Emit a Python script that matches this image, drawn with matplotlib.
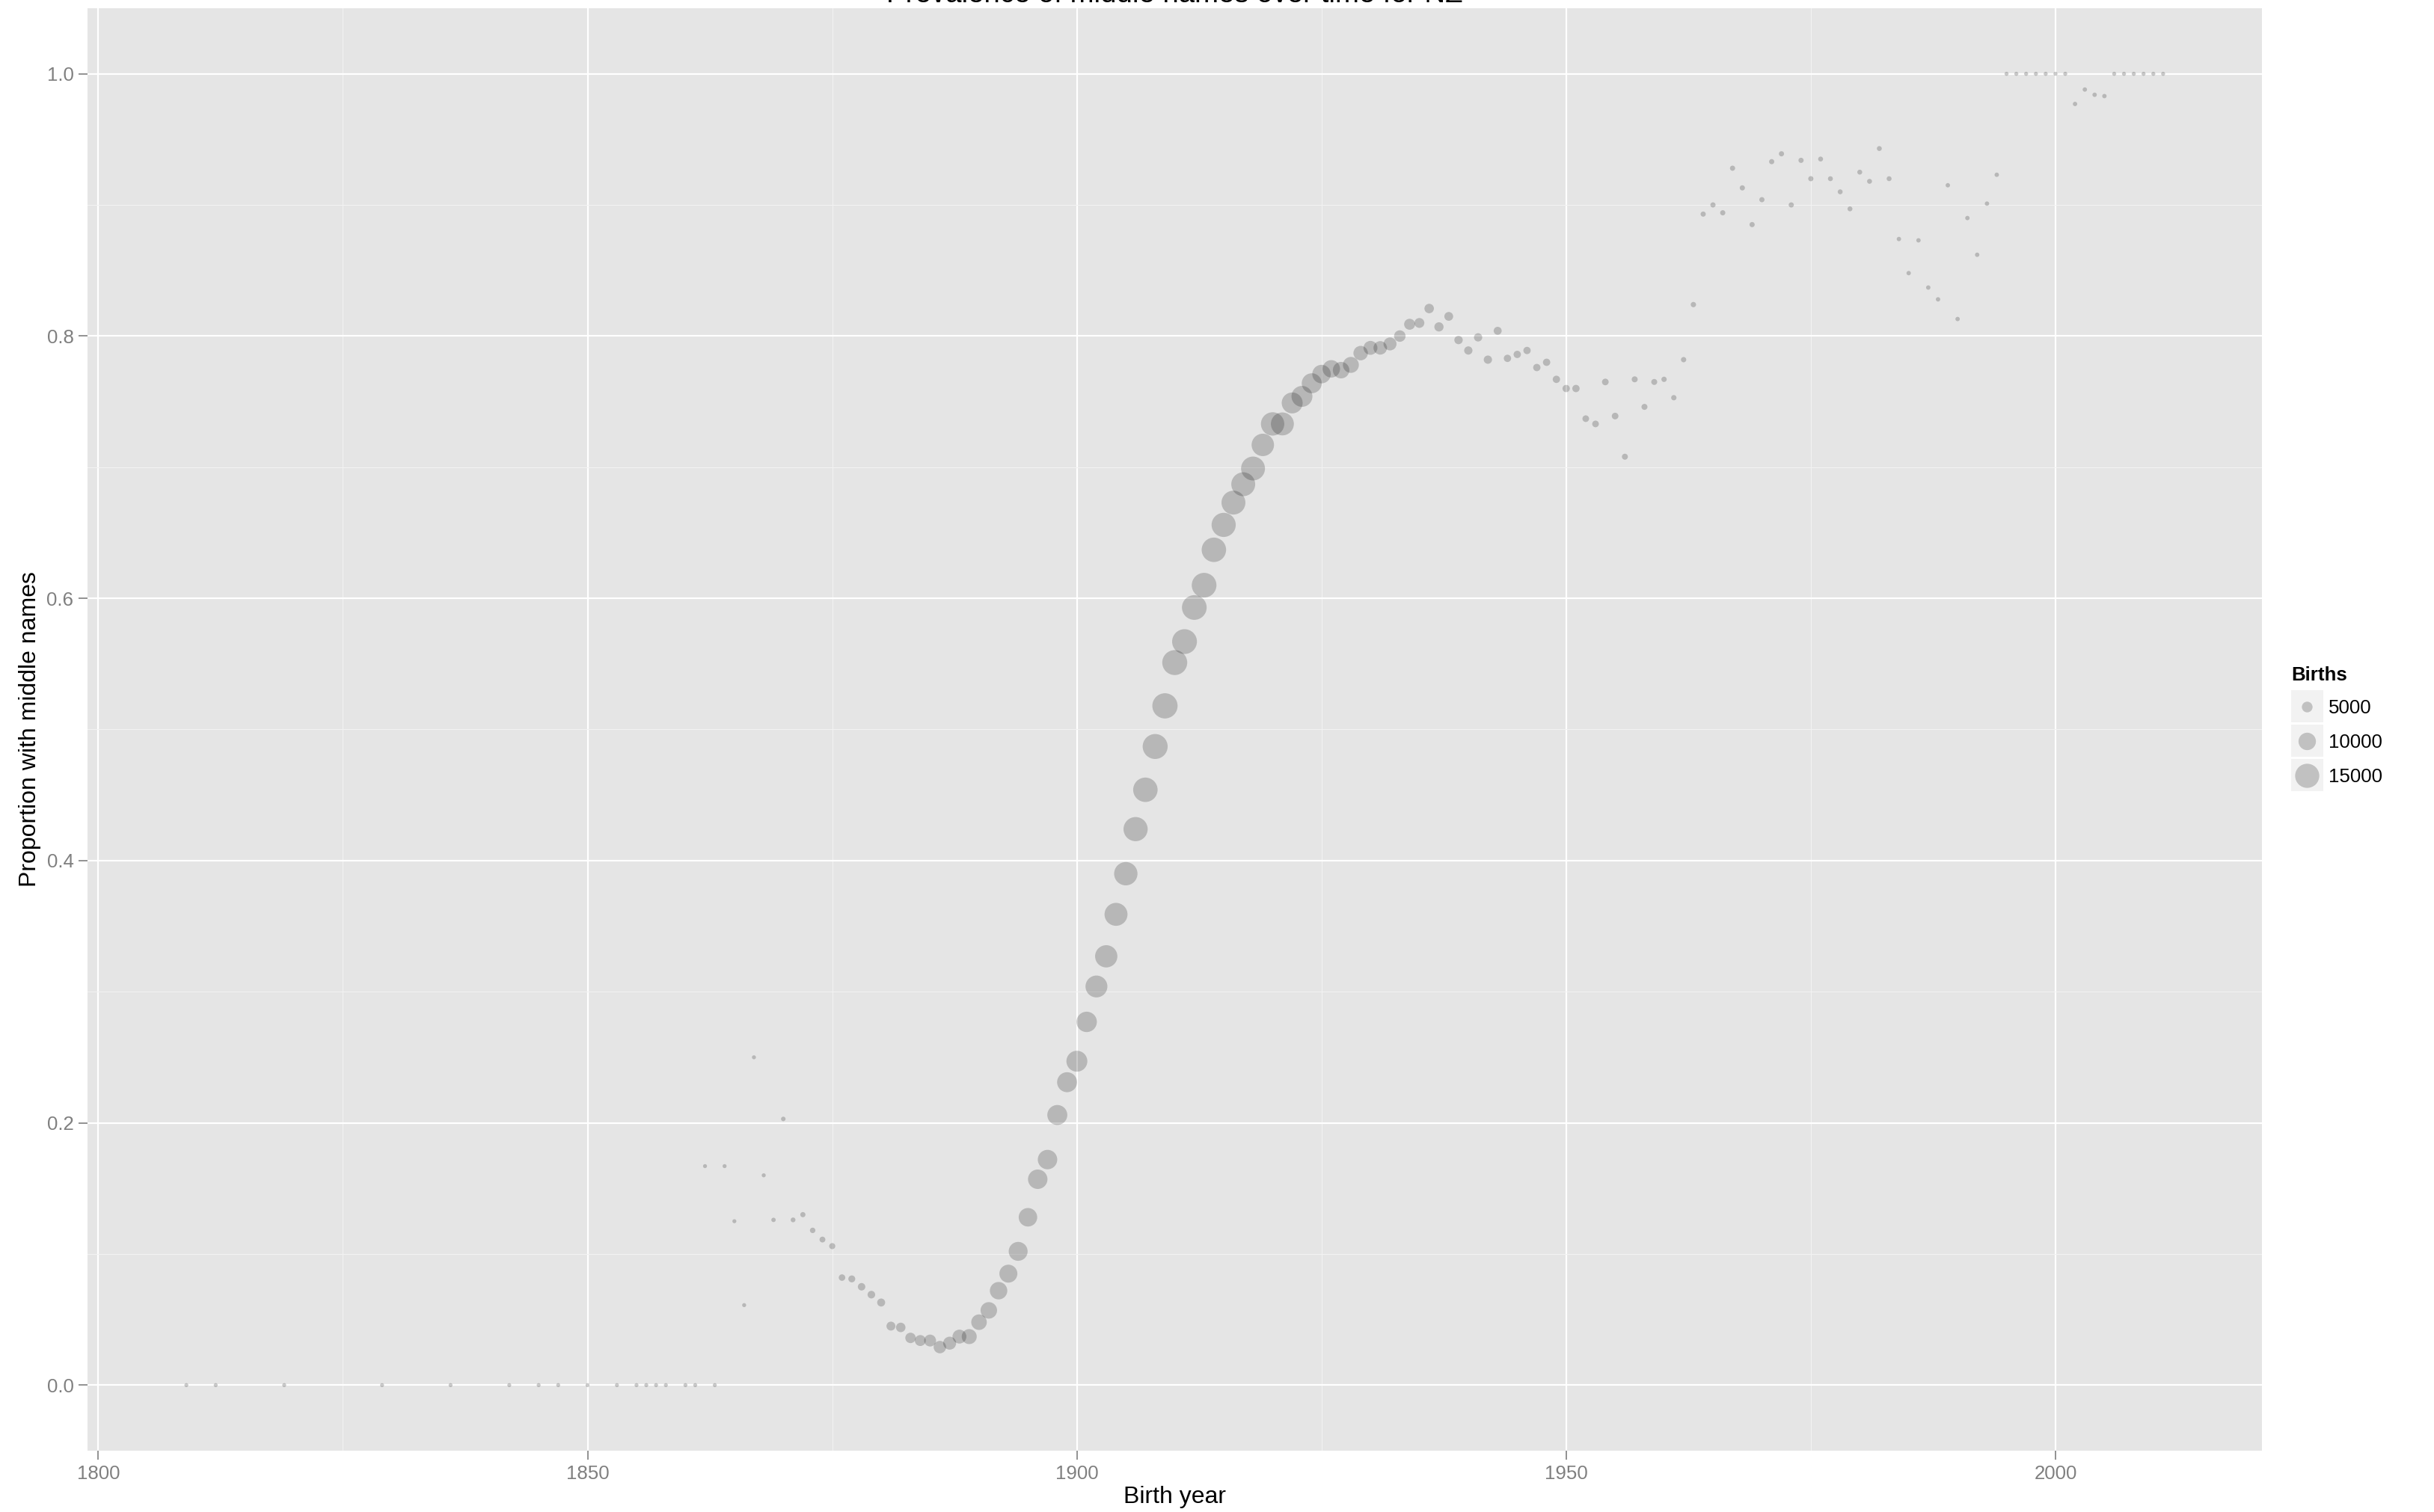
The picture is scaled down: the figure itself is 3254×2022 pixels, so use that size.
import matplotlib.pyplot as plt
from matplotlib.patches import Rectangle
from matplotlib.ticker import MultipleLocator, FuncFormatter

plt.rcParams['font.family'] = ['Liberation Sans', 'DejaVu Sans']

# birth year, proportion with a middle name, number of births
years = [1809, 1812, 1819, 1829, 1836, 1842, 1845, 1847, 1850, 1853, 1855, 1856, 1857, 1858, 1860, 1861,
         1862, 1863, 1864, 1865, 1866, 1867, 1868, 1869,
         1870, 1871, 1872, 1873, 1874, 1875, 1876, 1877, 1878, 1879,
         1880, 1881, 1882, 1883, 1884, 1885, 1886, 1887, 1888, 1889,
         1890, 1891, 1892, 1893, 1894, 1895, 1896, 1897, 1898, 1899,
         1900, 1901, 1902, 1903, 1904, 1905, 1906, 1907, 1908, 1909,
         1910, 1911, 1912, 1913, 1914, 1915, 1916, 1917, 1918, 1919,
         1920, 1921, 1922, 1923, 1924, 1925, 1926, 1927, 1928, 1929,
         1930, 1931, 1932, 1933, 1934, 1935, 1936, 1937, 1938, 1939,
         1940, 1941, 1942, 1943, 1944, 1945, 1946, 1947, 1948, 1949,
         1950, 1951, 1952, 1953, 1954, 1955, 1956, 1957, 1958, 1959,
         1960, 1961, 1962, 1963, 1964, 1965, 1966, 1967, 1968, 1969,
         1970, 1971, 1972, 1973, 1974, 1975, 1976, 1977, 1978, 1979,
         1980, 1981, 1982, 1983, 1984, 1985, 1986, 1987, 1988, 1989,
         1990, 1991, 1992, 1993, 1994, 1995, 1996, 1997, 1998, 1999,
         2000, 2001, 2002, 2003, 2004, 2005, 2006, 2007, 2008, 2009,
         2010, 2011]

prop = [0, 0, 0, 0, 0, 0, 0, 0, 0, 0, 0, 0, 0, 0, 0, 0,
        0.167, 0.0, 0.167, 0.125, 0.061, 0.250, 0.160, 0.126,
        0.203, 0.126, 0.130, 0.118, 0.111, 0.106, 0.082, 0.081, 0.075, 0.069,
        0.063, 0.045, 0.044, 0.036, 0.034, 0.034, 0.029, 0.032, 0.037, 0.037,
        0.048, 0.057, 0.072, 0.085, 0.102, 0.128, 0.157, 0.172, 0.206, 0.231,
        0.247, 0.277, 0.304, 0.327, 0.359, 0.390, 0.424, 0.454, 0.487, 0.518,
        0.551, 0.567, 0.593, 0.610, 0.637, 0.656, 0.673, 0.687, 0.699, 0.717,
        0.733, 0.733, 0.749, 0.754, 0.764, 0.771, 0.775, 0.774, 0.778, 0.787,
        0.791, 0.791, 0.794, 0.800, 0.809, 0.810, 0.821, 0.807, 0.815, 0.797,
        0.789, 0.799, 0.782, 0.804, 0.783, 0.786, 0.789, 0.776, 0.780, 0.767,
        0.760, 0.760, 0.737, 0.733, 0.765, 0.739, 0.708, 0.767, 0.746, 0.765,
        0.767, 0.753, 0.782, 0.824, 0.893, 0.900, 0.894, 0.928, 0.913, 0.885,
        0.904, 0.933, 0.939, 0.900, 0.934, 0.920, 0.935, 0.920, 0.910, 0.897,
        0.925, 0.918, 0.943, 0.920, 0.874, 0.848, 0.873, 0.837, 0.828, 0.915,
        0.813, 0.890, 0.862, 0.901, 0.923, 1.0, 1.0, 1.0, 1.0, 1.0,
        1.0, 1.0, 0.977, 0.988, 0.984, 0.983, 1.0, 1.0, 1.0, 1.0,
        1.0, 1.0]

births = [2, 3, 2, 3, 2, 4, 3, 5, 4, 6, 5, 4, 6, 7, 5, 8,
          6, 4, 12, 16, 33, 16, 25, 300,
          400, 600, 900, 1100, 1400, 1600, 1900, 2200, 2600, 2700,
          3000, 3700, 4100, 4800, 5200, 5900, 6300, 6700, 7400, 8200,
          8600, 9300, 10000, 10400, 11100, 10800, 11500, 11500, 11900, 11900,
          12600, 12200, 13300, 13600, 14100, 14400, 15000, 15200, 15600, 15800,
          15600, 15500, 15400, 15400, 15200, 15000, 14800, 14800, 14800, 13700,
          14400, 14100, 12600, 12600, 11900, 10800, 10000, 9300, 8900, 7800,
          7400, 7100, 6700, 5600, 5200, 4400, 4100, 3900, 3600, 3300,
          3200, 3200, 3200, 3000, 2500, 2500, 2500, 2500, 2500, 2500,
          2500, 2500, 2000, 2000, 2000, 2000, 1500, 1500, 1500, 1500,
          1000, 1000, 1000, 1000, 900, 900, 900, 900, 900, 900,
          900, 900, 900, 900, 900, 900, 700, 700, 700, 700,
          700, 700, 700, 700, 300, 300, 300, 300, 300, 300,
          300, 300, 300, 300, 300, 50, 50, 50, 50, 50,
          50, 50, 300, 300, 300, 300, 50, 50, 50, 50,
          50, 50]

legend_breaks = [5000, 10000, 15000]

W, H, DPI = 3254, 2022, 200


def marker_area(b):
    # point diameter grows linearly with births (pixels), returned as pt^2
    d_px = 5.3 + 0.0018 * b
    return (d_px * 72 / DPI) ** 2


fig = plt.figure(figsize=(W / DPI, H / DPI), dpi=DPI, facecolor='white')
ax = fig.add_axes([117 / W, 1 - 1940 / H, (3024 - 117) / W, (1940 - 11) / H])
ax.set_facecolor('#E5E5E5')

ax.scatter(years, prop, s=[marker_area(b) for b in births], c='black', alpha=0.2,
           linewidths=0, zorder=3)

xr = max(years) - min(years)
ax.set_xlim(min(years) - 0.05 * xr, max(years) + 0.05 * xr)
ax.set_ylim(-0.05, 1.05)

ax.xaxis.set_major_locator(MultipleLocator(50))
ax.xaxis.set_minor_locator(MultipleLocator(25))
ax.yaxis.set_major_locator(MultipleLocator(0.2))
ax.yaxis.set_minor_locator(MultipleLocator(0.1))
ax.yaxis.set_major_formatter(FuncFormatter(lambda v, p: '%.1f' % v))

ax.grid(which='minor', color='#F2F2F2', linewidth=0.4)
ax.grid(which='major', color='white', linewidth=0.8)
ax.set_axisbelow(True)
for sp in ax.spines.values():
    sp.set_visible(False)

ax.tick_params(which='major', length=4.2, width=0.6, color='#7F7F7F',
               labelcolor='#7F7F7F', labelsize=9.3, pad=2.5)
ax.tick_params(which='minor', length=0)

fig.text(1570 / W, 1 - 2002 / H, 'Birth year', ha='center', va='center', fontsize=11.5)
fig.text(40 / W, 1 - 975 / H, 'Proportion with middle names', ha='center', va='center',
         rotation=90, fontsize=11.5)
fig.text(1570 / W, 1 - 3 / H, 'Prevalence of middle names over time for NZ',
         ha='center', va='baseline', fontsize=13.8)

# legend drawn in pixel coordinates
lx0, lx1, ly0, ly1 = 3040, 3254, 860, 1080
lax = fig.add_axes([lx0 / W, 1 - ly1 / H, (lx1 - lx0) / W, (ly1 - ly0) / H])
lax.set_xlim(lx0, lx1)
lax.set_ylim(ly1, ly0)
lax.axis('off')
lax.text(3063, 910.5, 'Births', fontsize=9.3, fontweight='bold', va='baseline', ha='left')
for i, b in enumerate(legend_breaks):
    top = 923 + i * 46
    lax.add_patch(Rectangle((3063, top), 43, 43, facecolor='#F2F2F2', edgecolor='none'))
    lax.scatter([3084.5], [top + 21.5], s=marker_area(b), c='black', alpha=0.2,
                linewidths=0, zorder=3)
    lax.text(3113, top + 31, str(b), fontsize=9.3, va='baseline', ha='left')

fig.savefig('out.png', dpi=DPI, facecolor='white')
